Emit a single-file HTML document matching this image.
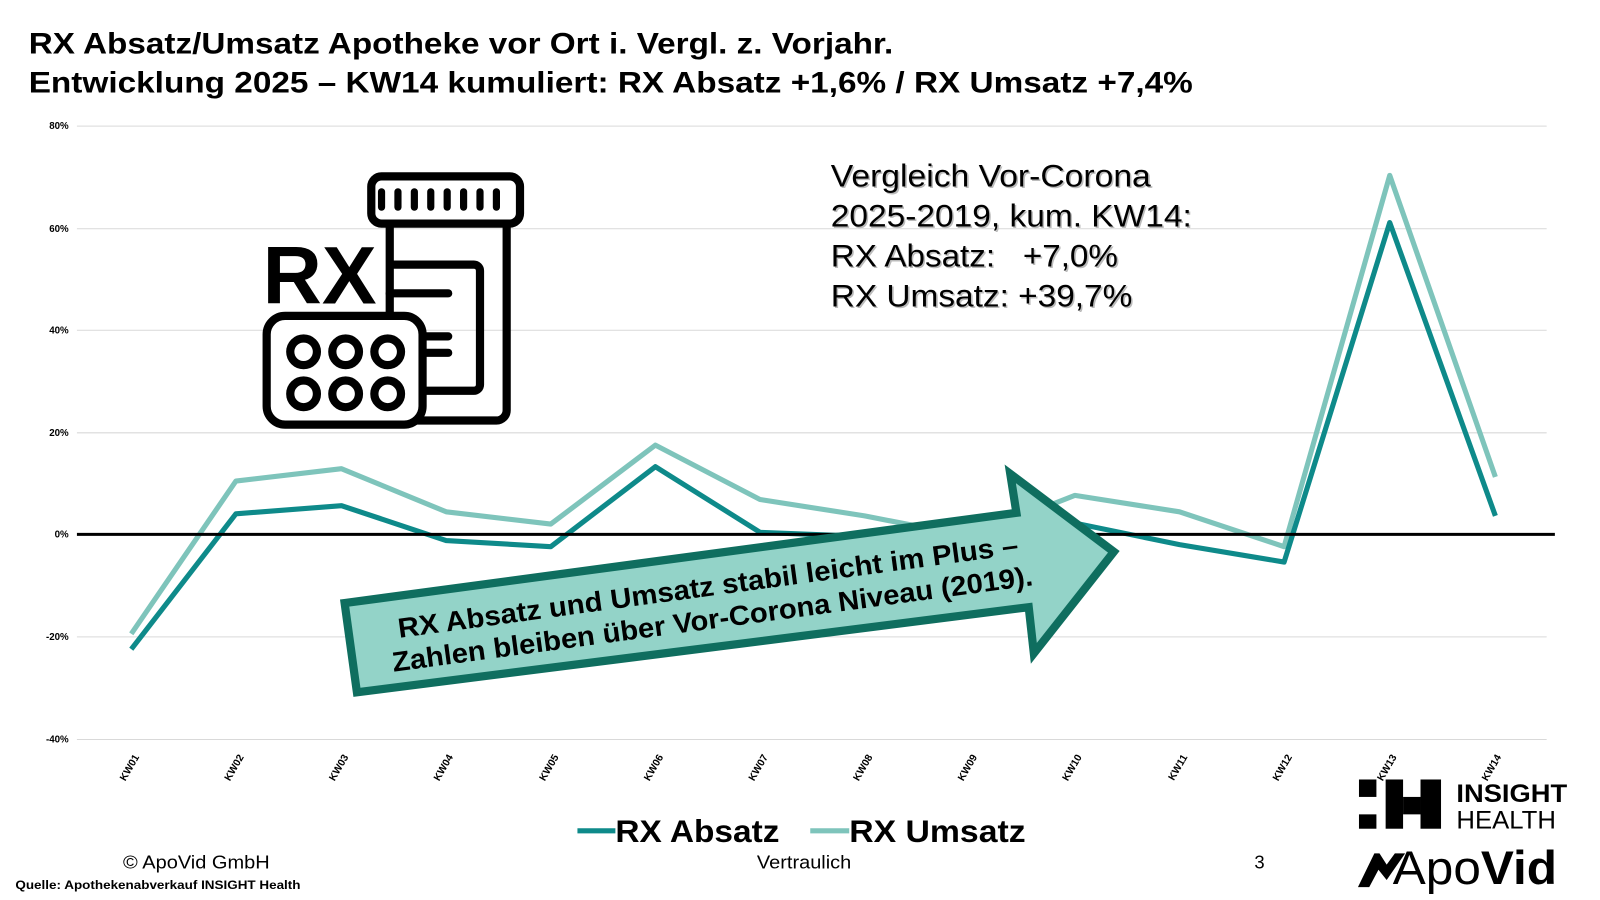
<!DOCTYPE html>
<html><head><meta charset="utf-8"><style>
html,body{margin:0;padding:0;background:#fff;}
svg{display:block;font-family:"Liberation Sans",Arial,sans-serif;}
</style></head><body>
<svg width="1600" height="900" viewBox="0 0 1560 877.5" xmlns="http://www.w3.org/2000/svg">
<text x="28" y="52" font-size="29" font-weight="bold" textLength="843" lengthAdjust="spacingAndGlyphs">RX Absatz/Umsatz Apotheke vor Ort i. Vergl. z. Vorjahr.</text>
<text x="28" y="90" font-size="29" font-weight="bold" textLength="1135" lengthAdjust="spacingAndGlyphs">Entwicklung 2025 – KW14 kumuliert: RX Absatz +1,6% / RX Umsatz +7,4%</text>
<g stroke="#d9d9d9" stroke-width="1">
<line x1="75" x2="1508" y1="123" y2="123"/><line x1="75" x2="1508" y1="223" y2="223"/>
<line x1="75" x2="1508" y1="322" y2="322"/><line x1="75" x2="1508" y1="422" y2="422"/>
<line x1="75" x2="1508" y1="621" y2="621"/><line x1="75" x2="1508" y1="721" y2="721"/>
</g>
<g font-size="9.5" font-weight="bold" text-anchor="end">
<text x="67" y="126">80%</text><text x="67" y="226">60%</text><text x="67" y="325">40%</text>
<text x="67" y="425">20%</text><text x="67" y="524">0%</text><text x="67" y="624">-20%</text><text x="67" y="724">-40%</text>
</g>
<g font-size="10" font-weight="bold" text-anchor="end">
<text transform="translate(136,738) rotate(-60)">KW01</text>
<text transform="translate(238,738) rotate(-60)">KW02</text>
<text transform="translate(340,738) rotate(-60)">KW03</text>
<text transform="translate(442,738) rotate(-60)">KW04</text>
<text transform="translate(545,738) rotate(-60)">KW05</text>
<text transform="translate(647,738) rotate(-60)">KW06</text>
<text transform="translate(749,738) rotate(-60)">KW07</text>
<text transform="translate(851,738) rotate(-60)">KW08</text>
<text transform="translate(953,738) rotate(-60)">KW09</text>
<text transform="translate(1055,738) rotate(-60)">KW10</text>
<text transform="translate(1158,738) rotate(-60)">KW11</text>
<text transform="translate(1260,738) rotate(-60)">KW12</text>
<text transform="translate(1362,738) rotate(-60)">KW13</text>
<text transform="translate(1464,738) rotate(-60)">KW14</text>
</g>
<polyline fill="none" stroke="#7ec4bb" stroke-width="5" stroke-linejoin="round" points="128,618 230,469 333,457 435,499 537,511 639,434 741,487 843,503 946,523 1048,483 1150,499 1252,533 1355,171 1458,465"/>
<polyline fill="none" stroke="#0e8a8a" stroke-width="5" stroke-linejoin="round" points="128,633 230,501 333,493 435,527 537,533 639,455 741,519 843,523 946,524 1048,510 1150,531 1252,548 1355,217 1458,503"/>
<line x1="75" x2="1516" y1="521" y2="521" stroke="#000" stroke-width="3"/>
<polygon points="336,588 991,500 985,462 1086,538 1008,637 1003,592 348,675" fill="#93d3c8" stroke="#0f6e5f" stroke-width="8" stroke-linejoin="miter"/>
<g transform="translate(692,585) rotate(-7.7)" font-size="27" font-weight="bold" text-anchor="middle">
<text x="0" y="-4" textLength="610" lengthAdjust="spacingAndGlyphs">RX Absatz und Umsatz stabil leicht im Plus –</text>
<text x="0" y="28" textLength="630" lengthAdjust="spacingAndGlyphs">Zahlen bleiben über Vor-Corona Niveau (2019).</text>
</g>
<g font-size="31">
<g fill="#bbb" transform="translate(1.5,1.5)">
<text x="810" y="182" textLength="312" lengthAdjust="spacingAndGlyphs">Vergleich Vor-Corona</text><text x="810" y="221" textLength="352" lengthAdjust="spacingAndGlyphs">2025-2019, kum. KW14:</text>
<text x="810" y="260" textLength="280" lengthAdjust="spacingAndGlyphs">RX Absatz:&#160;&#160;&#160;+7,0%</text><text x="810" y="299" textLength="294" lengthAdjust="spacingAndGlyphs">RX Umsatz: +39,7%</text></g>
<text x="810" y="182" textLength="312" lengthAdjust="spacingAndGlyphs">Vergleich Vor-Corona</text><text x="810" y="221" textLength="352" lengthAdjust="spacingAndGlyphs">2025-2019, kum. KW14:</text>
<text x="810" y="260" textLength="280" lengthAdjust="spacingAndGlyphs">RX Absatz:&#160;&#160;&#160;+7,0%</text><text x="810" y="299" textLength="294" lengthAdjust="spacingAndGlyphs">RX Umsatz: +39,7%</text>
</g>
<g fill="none" stroke="#000" stroke-width="8">
<rect x="362" y="172" width="145" height="46" rx="10"/>
<path d="M380,218 V400 a10,10 0 0 0 10,10 H484 a10,10 0 0 0 10,-10 V218"/>
<path d="M380,258 H462 a6,6 0 0 1 6,6 V375 a6,6 0 0 1 -6,6 H415"/>
<path d="M380,286 H437 M415,328 H437 M415,344 H437" stroke-linecap="round"/>
<rect x="260" y="308" width="152" height="106" rx="18" fill="#fff"/>
<circle cx="296" cy="343" r="13"/><circle cx="337" cy="343" r="13"/><circle cx="378" cy="343" r="13"/>
<circle cx="296" cy="384" r="13"/><circle cx="337" cy="384" r="13"/><circle cx="378" cy="384" r="13"/>
</g>
<g stroke="#000" stroke-width="7" stroke-linecap="round">
<line x1="372" y1="187" x2="372" y2="202"/><line x1="388" y1="187" x2="388" y2="202"/><line x1="404" y1="187" x2="404" y2="202"/>
<line x1="420" y1="187" x2="420" y2="202"/><line x1="436" y1="187" x2="436" y2="202"/><line x1="452" y1="187" x2="452" y2="202"/>
<line x1="468" y1="187" x2="468" y2="202"/><line x1="484" y1="187" x2="484" y2="202"/>
</g>
<text x="256" y="296" font-size="80" font-weight="bold">RX</text>
<line x1="563" x2="600" y1="810" y2="810" stroke="#0e8a8a" stroke-width="5"/>
<text x="600" y="821" font-size="31" font-weight="bold" textLength="160" lengthAdjust="spacingAndGlyphs">RX Absatz</text>
<line x1="790" x2="828" y1="810" y2="810" stroke="#7ec4bb" stroke-width="5"/>
<text x="828" y="821" font-size="31" font-weight="bold" textLength="172" lengthAdjust="spacingAndGlyphs">RX Umsatz</text>
<text x="120" y="847" font-size="18" textLength="143" lengthAdjust="spacingAndGlyphs">© ApoVid GmbH</text>
<text x="738" y="847" font-size="18" textLength="92" lengthAdjust="spacingAndGlyphs">Vertraulich</text>
<text x="1228" y="847" font-size="18" text-anchor="middle">3</text>
<text x="15" y="867" font-size="11.5" font-weight="bold" textLength="278" lengthAdjust="spacingAndGlyphs">Quelle: Apothekenabverkauf INSIGHT Health</text>
<g fill="#000">
<rect x="1325" y="760" width="17" height="17"/><rect x="1325" y="794" width="17" height="14"/>
<rect x="1351" y="760" width="17" height="48"/><rect x="1368" y="777" width="17" height="17"/>
<rect x="1385" y="760" width="20" height="48"/>
<polygon points="1324,865 1340,832 1332,832 1345,832 1352,843 1360,832 1370,832 1352,858 1344,848 1335,865"/>
</g>
<text x="1420" y="782" font-size="24" font-weight="bold" textLength="108" lengthAdjust="spacingAndGlyphs">INSIGHT</text>
<text x="1420" y="808" font-size="24" textLength="97" lengthAdjust="spacingAndGlyphs">HEALTH</text>
<text x="1358" y="862" font-size="46" textLength="160" lengthAdjust="spacingAndGlyphs">Apo<tspan font-weight="bold">Vid</tspan></text>
</svg>
</body></html>
